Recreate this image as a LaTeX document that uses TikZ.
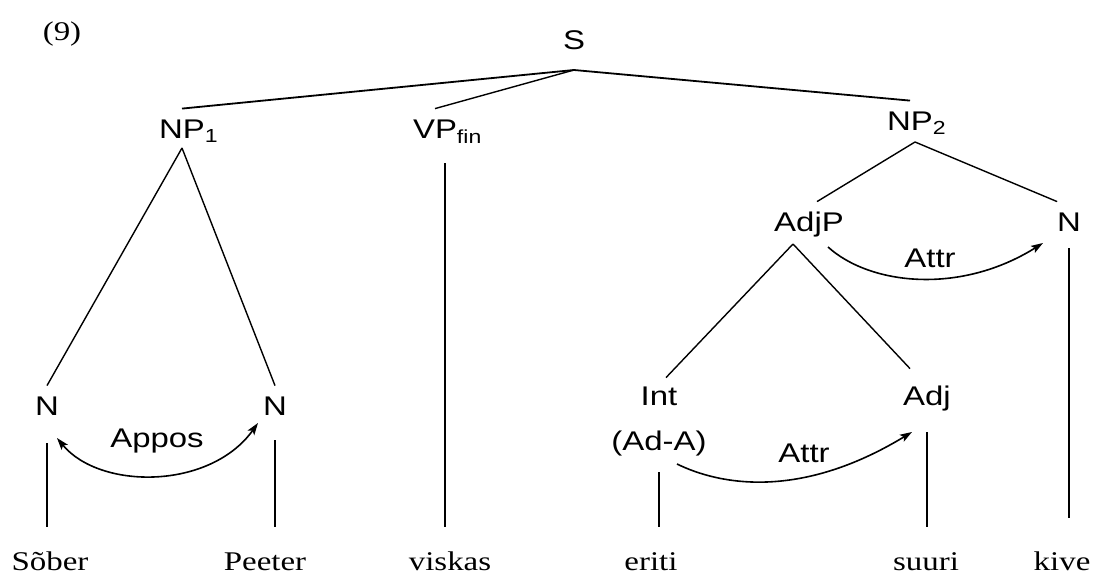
\documentclass[tikz,border=0pt]{standalone}
\usepackage{fontspec}
\setmainfont{Liberation Serif}[FakeStretch=1.22]
\newfontfamily\labfont{Liberation Sans}[FakeStretch=1.22]
\usetikzlibrary{arrows.meta,calc}
\begin{document}
\begin{tikzpicture}[x=1pt,y=-1pt,
  cat/.style={font=\labfont\fontsize{27}{32}\selectfont, inner sep=0pt, outer xsep=0pt, outer ysep=10pt, text height=19.4pt, text depth=0pt, anchor=base},
  word/.style={font=\fontsize{27}{32}\selectfont, inner sep=0pt, outer xsep=0pt, outer ysep=25pt, text height=18pt, text depth=0pt, anchor=base},
  lab/.style={font=\labfont\fontsize{27}{32}\selectfont, inner sep=0pt, anchor=base},
  tree/.style={line width=1.4pt},
  toptree/.style={line width=1.8pt},
  >={Stealth[length=12pt,width=8pt,inset=2.5pt]},
  rel/.style={line width=1.6pt},
]
\useasboundingbox (0,0) rectangle (1099,575);
% example number
\node[inner sep=0pt, anchor=base, font=\fontsize{27}{32}\selectfont] (ex) at (62,41) {(9)};
% categories
\node[cat, outer ysep=20pt] (S) at (574,50) {S};
\node[cat] (NP1) at (182,138) {NP\rlap{\textsubscript{1}}};
\node[cat] (VP) at (435,138) {VP\rlap{\textsubscript{fin}}};
\node[cat] (NP2) at (910,130) {NP\rlap{\textsubscript{2}}};
\node[cat] (AdjP) at (809,231) {AdjP};
\node[cat] (Nr) at (1069,231) {N};
\node[cat] (Nl) at (47,415) {N};
\node[cat] (Np) at (275,415) {N};
\node[cat] (Int) at (659,405) {Int};
\node[cat] (IntA) at (659,450) {(Ad-A)};
\node[cat] (Adj) at (927,405) {Adj};
% words
\node[word] (Sober) at (50,570) {Sõber};
\node[word] (Peeter) at (265,570) {Peeter};
\node[word] (viskas) at (450,570) {viskas};
\node[word] (eriti) at (651,570) {eriti};
\node[word] (suuri) at (926,570) {suuri};
\node[word] (kive) at (1062,570) {kive};
% tree lines
\draw[toptree] (S.south) -- (NP1.north);
\draw[tree] (S.south) -- (VP.north);
\draw[toptree] (S.south) -- (NP2.north);
\draw[tree] (NP1.south) -- (Nl.north);
\draw[tree] (NP1.south) -- (Np.north);
\draw[tree] ($(VP.south)+(10,15)$) -- ($(VP.south |- viskas.north)+(10,0)$);
\draw[tree] ($(NP2.south)+(5,2)$) -- ($(AdjP.north)+(8,0)$);
\draw[tree] ($(NP2.south)+(5,2)$) -- (Nr.north west);
\draw[tree] ($(AdjP.south)+(-16,3)$) -- ($(Int.north)+(7,2)$);
\draw[tree] ($(AdjP.south)+(-16,3)$) -- ($(Adj.north)+(-17,-7)$);
\draw[tree, shorten <=18pt] (Nl.south) -- (Nl.south |- Sober.north);
\draw[tree, shorten <=15pt] (Np.south) -- (Np.south |- Peeter.north);
\draw[tree, shorten <=12pt] (IntA.south) -- (IntA.south |- eriti.north);
\draw[tree, shorten <=17pt] (Adj.south) -- (Adj.south |- suuri.north);
\draw[tree, shorten <=7pt, shorten >=9pt] (Nr.south) -- (Nr.south |- kive.north);
% relations
\draw[rel, <->] ($(Nl.base)+(10,23)$) .. controls +(43,52) and +(-48,67) .. ($(Np.base)+(-17,8)$);
\node[lab] (appos) at (157,447) {Appos};
\draw[rel, ->] ($(AdjP.base)+(19,16)$) .. controls +(42,38) and +(-83,52) .. ($(Nr.base)+(-26,12)$);
\node[lab] (attr1) at (930,267) {Attr};
\draw[rel, ->] ($(IntA.base)+(18,14)$) .. controls +(43,21) and +(-112,68) .. ($(Adj.base)+(-15,27)$);
\node[lab] (attr2) at (804,462) {Attr};
\end{tikzpicture}
\end{document}
